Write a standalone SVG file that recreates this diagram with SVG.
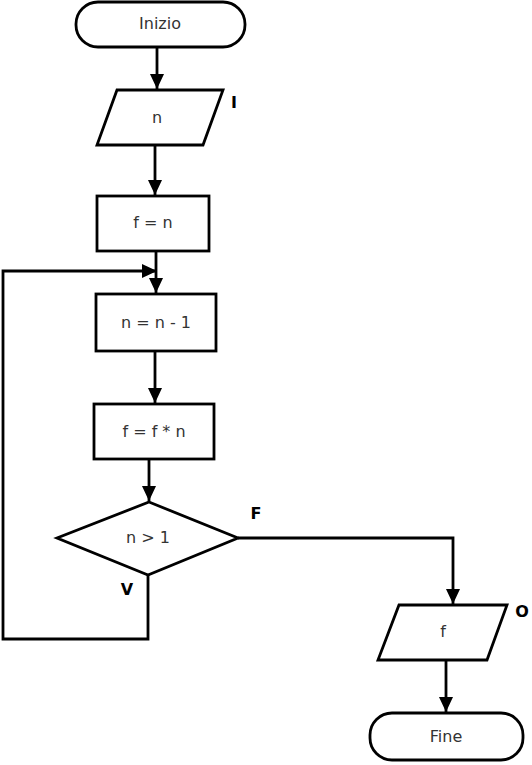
<svg xmlns="http://www.w3.org/2000/svg" width="532" height="765" viewBox="0 0 532 765">
<style>
.s{fill:#fff;stroke:#000;stroke-width:2.8}
.t{font-family:"DejaVu Sans",sans-serif;font-size:16px;fill:#333;text-anchor:middle;dominant-baseline:central}
.l{font-family:"DejaVu Sans",sans-serif;font-size:16px;font-weight:bold;fill:#000;text-anchor:middle;dominant-baseline:central}
.c{fill:none;stroke:#000;stroke-width:2.8}
</style>
<defs>
<marker id="a" markerUnits="userSpaceOnUse" markerWidth="16" markerHeight="16" refX="15" refY="7" orient="auto">
<path d="M0,0 L15,7 L0,14 z" fill="#000"/>
</marker>
</defs>
<rect width="532" height="765" fill="#fff"/>
<g id="connectors">
<path class="c" d="M157,47 V89" marker-end="url(#a)"/>
<path class="c" d="M155,145 V195" marker-end="url(#a)"/>
<path class="c" d="M156,251 V293" marker-end="url(#a)"/>
<path class="c" d="M148,575 V639 H3 V271 H157" marker-end="url(#a)"/>
<path class="c" d="M155,351 V403" marker-end="url(#a)"/>
<path class="c" d="M149,459 V501" marker-end="url(#a)"/>
<path class="c" d="M238,538 H453 V604" marker-end="url(#a)"/>
<path class="c" d="M446,660 V712" marker-end="url(#a)"/>
</g>
<g id="inizio">
<rect class="s" x="76" y="2" width="169" height="45" rx="22" ry="22"/>
<text class="t" x="160" y="23">Inizio</text>
</g>
<g id="input-n">
<polygon class="s" points="117,90 223,90 203,145 97,145"/>
<text class="t" x="157" y="117">n</text>
<text class="l" x="234" y="102">I</text>
</g>
<g id="f-eq-n">
<rect class="s" x="97" y="196" width="112" height="55"/>
<text class="t" x="153" y="222">f = n</text>
</g>
<g id="n-eq-n-1">
<rect class="s" x="96" y="294" width="120" height="57"/>
<text class="t" x="156" y="322">n = n - 1</text>
</g>
<g id="f-eq-f-n">
<rect class="s" x="94" y="404" width="120" height="55"/>
<text class="t" x="154" y="431">f = f * n</text>
</g>
<g id="decision">
<polygon class="s" points="149,502 238,538 148,575 57,538"/>
<text class="t" x="148" y="537">n &gt; 1</text>
<text class="l" x="256" y="513">F</text>
<text class="l" x="127" y="589">V</text>
</g>
<g id="output-f">
<polygon class="s" points="399,605 507,605 487,660 378,660"/>
<text class="t" x="443" y="631">f</text>
<text class="l" x="522" y="611">O</text>
</g>
<g id="fine">
<rect class="s" x="370" y="713" width="153" height="47" rx="22" ry="22"/>
<text class="t" x="446" y="736">Fine</text>
</g>
</svg>
